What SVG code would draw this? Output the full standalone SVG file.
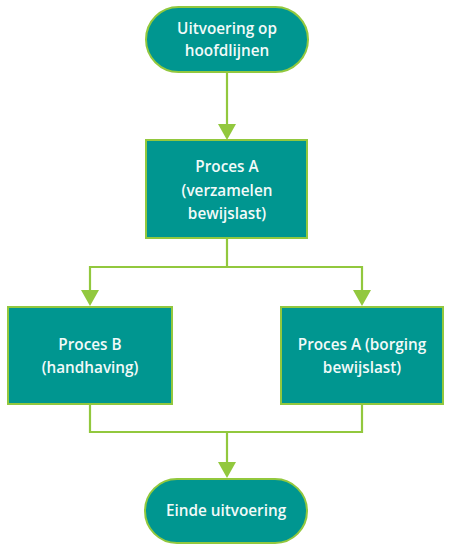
<svg xmlns="http://www.w3.org/2000/svg" width="449" height="556" viewBox="0 0 449 556">
<defs>
<style>
.node{fill:#009690;stroke:#92C83E;stroke-width:2}
.t{font-family:"Open Sans","Noto Sans",sans-serif;font-size:15.3px;font-weight:600;fill:#F2FAF9;text-anchor:middle}
.c{fill:none;stroke:#92C83E;stroke-width:2.2}
.ah{fill:#92C83E}
</style>
</defs>
<rect width="449" height="556" fill="#ffffff"/>
<g id="connectors">
<path class="c" d="M227,72 V126"/>
<path class="c" d="M227,238 V267 H90 V292"/>
<path class="c" d="M227,267 H362 V292"/>
<path class="c" d="M90,404 V432 H362 V404"/>
<path class="c" d="M227,432 V464"/>
<polygon class="ah" points="218,124 236,124 227,140"/>
<polygon class="ah" points="81,290 99,290 90,306"/>
<polygon class="ah" points="353,290 371,290 362,306"/>
<polygon class="ah" points="218,462 236,462 227,478"/>
</g>
<g id="start">
<rect class="node" x="146" y="7" width="162" height="65" rx="32.5"/>
<text class="t" x="227" y="34">Uitvoering op</text>
<text class="t" x="227" y="56">hoofdlijnen</text>
</g>
<g id="procesA">
<rect class="node" x="146" y="140" width="161" height="98"/>
<text class="t" x="227" y="172">Proces A</text>
<text class="t" x="227" y="196">(verzamelen</text>
<text class="t" x="227" y="219">bewijslast)</text>
</g>
<g id="procesB">
<rect class="node" x="8" y="307" width="164" height="97"/>
<text class="t" x="90" y="350">Proces B</text>
<text class="t" x="90" y="373">(handhaving)</text>
</g>
<g id="procesA2">
<rect class="node" x="281" y="307" width="162" height="97"/>
<text class="t" x="362" y="350">Proces A (borging</text>
<text class="t" x="362" y="373">bewijslast)</text>
</g>
<g id="end">
<rect class="node" x="145" y="479" width="162" height="64" rx="32"/>
<text class="t" x="226" y="516">Einde uitvoering</text>
</g>
</svg>
